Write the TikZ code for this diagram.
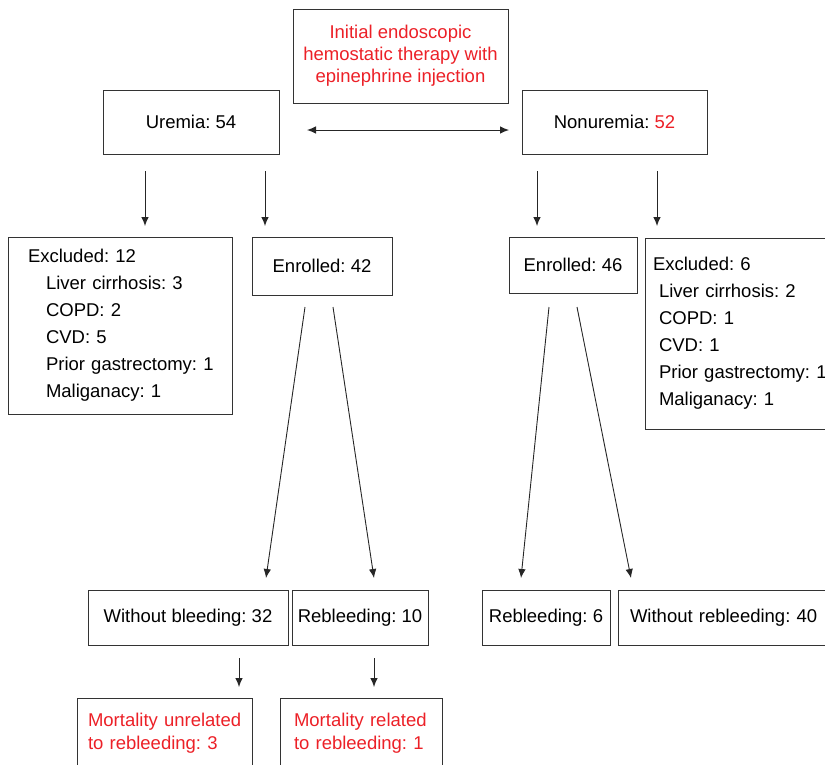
\documentclass[tikz,border=0pt]{standalone}
\usepackage{fontspec}
\setmainfont{Liberation Sans}
\usetikzlibrary{arrows.meta}
\definecolor{redtxt}{RGB}{236,32,39}
\frenchspacing
\begin{document}
\begin{tikzpicture}[x=1pt,y=-1pt,
  box/.style={draw=black!80, line width=1pt, rectangle, inner sep=0pt, font=\fontsize{18.5}{22}\selectfont\frenchspacing},
  listbox/.style={box, align=left, font=\fontsize{18.5}{27}\selectfont\frenchspacing},
  mortbox/.style={box, align=left, text=redtxt, font=\fontsize{18.5}{23}\selectfont\frenchspacing},
  arr/.style={-{Latex[length=9pt,width=7.5pt]}, line width=0.9pt, draw=black!85},
  darr/.style={{Latex[length=9pt,width=7.5pt]}-{Latex[length=9pt,width=7.5pt]}, line width=0.9pt, draw=black!85}]
\useasboundingbox (0,0) rectangle (825,764);
\clip (0,0) rectangle (825,764);

\node[box, minimum width=215pt, minimum height=94pt, align=center, text=redtxt] (top) at (400.5,56) {Initial endoscopic\\hemostatic therapy with\\epinephrine injection};
\node[box, minimum width=176pt, minimum height=64pt] (urem) at (191,122) {Uremia: 54};
\node[box, minimum width=185pt, minimum height=64pt] (nonurem) at (614.5,122) {Nonuremia: \textcolor{redtxt}{52}};

\node[listbox, minimum height=177pt, text width=184pt, inner xsep=20pt] (exclL) at (120,325.5)
  {\mbox{Excluded: 12}\\\hspace*{18pt}\mbox{Liver cirrhosis: 3}\\\hspace*{18pt}\mbox{COPD: 2}\\\hspace*{18pt}\mbox{CVD: 5}\\\hspace*{18pt}\mbox{Prior gastrectomy: 1}\\\hspace*{18pt}\mbox{Maliganacy: 1}};
\node[box, minimum width=140pt, minimum height=58pt] (enr42) at (322,266) {Enrolled: 42};
\node[box, minimum width=128pt, minimum height=56pt] (enr46) at (573,265) {Enrolled: 46};
\node[listbox, minimum height=191pt, text width=179pt, inner xsep=8pt] (exclR) at (742.5,333.5)
  {\mbox{Excluded: 6}\\\hspace*{6pt}\mbox{Liver cirrhosis: 2}\\\hspace*{6pt}\mbox{COPD: 1}\\\hspace*{6pt}\mbox{CVD: 1}\\\hspace*{6pt}\mbox{Prior gastrectomy: 1}\\\hspace*{6pt}\mbox{Maliganacy: 1}};

\node[box, minimum width=200pt, minimum height=55pt] (wob) at (188,617.5) {Without bleeding: 32};
\node[box, minimum width=136pt, minimum height=55pt] (reb10) at (360,617.5) {Rebleeding: 10};
\node[box, minimum width=128pt, minimum height=55pt] (reb6) at (546,617.5) {Rebleeding: 6};
\node[box, align=left, minimum height=55pt, text width=198pt, inner xsep=12pt] (worb) at (729,617.5) {\mbox{Without rebleeding: 40}};

\node[mortbox, minimum height=70pt, text width=153pt, inner xsep=11pt] (mortU) at (164.5,733) {\mbox{Mortality unrelated}\\\mbox{to rebleeding: 3}};
\node[mortbox, minimum height=70pt, text width=134pt, inner xsep=14pt] (mortR) at (361,733) {\mbox{Mortality related}\\\mbox{to rebleeding: 1}};

% connector end points
\coordinate (dL) at (307,130); \coordinate (dR) at (509,130);
\coordinate (a1s) at (145,171); \coordinate (a1e) at (145,226);
\coordinate (a2s) at (265,171); \coordinate (a2e) at (265,226);
\coordinate (a3s) at (537,171); \coordinate (a3e) at (537,226);
\coordinate (a4s) at (657,171); \coordinate (a4e) at (657,226);
\coordinate (b1s) at (305,307); \coordinate (b1e) at (266,578);
\coordinate (b2s) at (333,307); \coordinate (b2e) at (374,578);
\coordinate (b3s) at (549,307); \coordinate (b3e) at (521,578);
\coordinate (b4s) at (577,307); \coordinate (b4e) at (631,578);
\coordinate (c1s) at (239,658); \coordinate (c1e) at (239,687);
\coordinate (c2s) at (374,658); \coordinate (c2e) at (374,687);

\draw[darr] (dL) -- (dR);
\draw[arr] (a1s) -- (a1e);
\draw[arr] (a2s) -- (a2e);
\draw[arr] (a3s) -- (a3e);
\draw[arr] (a4s) -- (a4e);
\draw[arr] (b1s) -- (b1e);
\draw[arr] (b2s) -- (b2e);
\draw[arr] (b3s) -- (b3e);
\draw[arr] (b4s) -- (b4e);
\draw[arr] (c1s) -- (c1e);
\draw[arr] (c2s) -- (c2e);
\end{tikzpicture}
\end{document}
